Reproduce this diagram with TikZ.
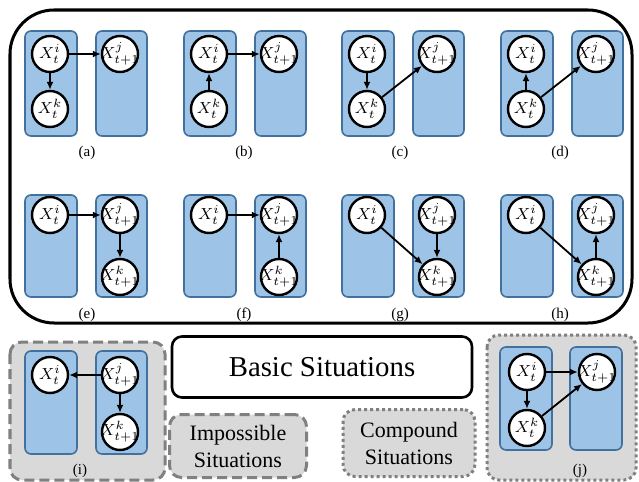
\documentclass[tikz,border=0pt]{standalone}
\usepackage{fontspec}
\setmainfont{Liberation Serif}
\usetikzlibrary{arrows.meta,positioning}

\definecolor{colfill}{RGB}{157,195,230}
\definecolor{coledge}{RGB}{65,113,156}
\definecolor{shade}{RGB}{217,217,217}
\definecolor{rim}{RGB}{128,128,128}

% zero-width label so the circles keep one size
\newcommand{\xvar}[2]{\makebox[0pt]{$X^{#1}_{#2}$}}

\begin{document}
\begin{tikzpicture}
      [x=0.5pt, y=-0.5pt,
       varnode/.style={circle, draw, fill=white, line width=1.2pt, minimum size=18pt, inner sep=0pt, font=\fontsize{8.5}{10}\selectfont},
       slice/.style={draw=coledge, fill=colfill, line width=0.8pt, rounded corners=3pt},
       dep/.style={-{Latex[length=4pt,width=3.5pt]}, line width=0.9pt},
       tag/.style={font=\fontsize{7.5}{9}\selectfont},
       kindbox/.style={align=center, font=\fontsize{11}{13.5}\selectfont, fill=shade, draw=rim, line width=1.5pt, rounded corners=6pt}]
      \useasboundingbox (0,0) rectangle (639,482);

      % frames
      \draw [line width=1.5pt, rounded corners=22pt] (10,10) rectangle (632,323);
      \draw [fill=shade, draw=rim, line width=1.5pt, rounded corners=6pt, dash pattern=on 5pt off 2.5pt] (10,342) rectangle (165,480);
      \draw [fill=shade, draw=rim, line width=1.5pt, rounded corners=6pt, dash pattern=on 1.5pt off 1.5pt] (487,335) rectangle (636,480);

      % time slices
      \foreach \x in {25,184,342,501} {
        \draw [slice] (\x,31) rectangle ++(52,105);
        \draw [slice] (\x+71,31) rectangle ++(51,105);
        \draw [slice] (\x,195) rectangle ++(52,102);
        \draw [slice] (\x+71,195) rectangle ++(51,102);
      }
      \draw [slice] (25,351) rectangle (77,454);
      \draw [slice] (96,351) rectangle (147,454);
      \draw [slice] (500,347) rectangle (552,450);
      \draw [slice] (570,347) rectangle (622,450);

      % (a)
      \node [varnode] (ai) at ( 50, 54) {\xvar{i}{t}};
      \node [varnode] (ak) at ( 50,109) {\xvar{k}{t}};
      \node [varnode] (aj) at (120, 54) {\xvar{j}{t+1}};
      \draw [dep] (ai) to (aj);
      \draw [dep] (ai) to (ak);
      \node [tag] (la) at (87,153) {(a)};

      % (b)
      \node [varnode] (bi) at (209, 54) {\xvar{i}{t}};
      \node [varnode] (bk) at (209,109) {\xvar{k}{t}};
      \node [varnode] (bj) at (279, 54) {\xvar{j}{t+1}};
      \draw [dep] (bi) to (bj);
      \draw [dep] (bk) to (bi);
      \node [tag] (lb) at (244,153) {(b)};

      % (c)
      \node [varnode] (ci) at (367, 54) {\xvar{i}{t}};
      \node [varnode] (ck) at (367,109) {\xvar{k}{t}};
      \node [varnode] (cj) at (437, 54) {\xvar{j}{t+1}};
      \draw [dep] (ci) to (ck);
      \draw [dep] (ck) to (cj);
      \node [tag] (lc) at (400,153) {(c)};

      % (d)
      \node [varnode] (di) at (526, 54) {\xvar{i}{t}};
      \node [varnode] (dk) at (526,109) {\xvar{k}{t}};
      \node [varnode] (dj) at (596, 54) {\xvar{j}{t+1}};
      \draw [dep] (dk) to (di);
      \draw [dep] (dk) to (dj);
      \node [tag] (ld) at (560,153) {(d)};

      % (e)
      \node [varnode] (ei) at ( 50,215) {\xvar{i}{t}};
      \node [varnode] (ej) at (120,215) {\xvar{j}{t+1}};
      \node [varnode] (ek) at (120,277) {\xvar{k}{t+1}};
      \draw [dep] (ei) to (ej);
      \draw [dep] (ej) to (ek);
      \node [tag] (le) at (87,315) {(e)};

      % (f)
      \node [varnode] (fi) at (209,215) {\xvar{i}{t}};
      \node [varnode] (fj) at (279,215) {\xvar{j}{t+1}};
      \node [varnode] (fk) at (279,277) {\xvar{k}{t+1}};
      \draw [dep] (fi) to (fj);
      \draw [dep] (fk) to (fj);
      \node [tag] (lf) at (244,315) {(f)};

      % (g)
      \node [varnode] (gi) at (367,215) {\xvar{i}{t}};
      \node [varnode] (gj) at (437,215) {\xvar{j}{t+1}};
      \node [varnode] (gk) at (437,277) {\xvar{k}{t+1}};
      \draw [dep] (gi) to (gk);
      \draw [dep] (gj) to (gk);
      \node [tag] (lg) at (400,315) {(g)};

      % (h)
      \node [varnode] (hi) at (526,215) {\xvar{i}{t}};
      \node [varnode] (hj) at (596,215) {\xvar{j}{t+1}};
      \node [varnode] (hk) at (596,277) {\xvar{k}{t+1}};
      \draw [dep] (hi) to (hk);
      \draw [dep] (hk) to (hj);
      \node [tag] (lh) at (560,315) {(h)};

      % (i)
      \node [varnode] (ii) at ( 50,375) {\xvar{i}{t}};
      \node [varnode] (ij) at (120,375) {\xvar{j}{t+1}};
      \node [varnode] (ik) at (120,432) {\xvar{k}{t+1}};
      \draw [dep] (ij) to (ii);
      \draw [dep] (ij) to (ik);
      \node [tag] (li) at (80,471) {(i)};

      % (j)
      \node [varnode] (ji) at (527,372) {\xvar{i}{t}};
      \node [varnode] (jk) at (527,428) {\xvar{k}{t}};
      \node [varnode] (jj) at (597,372) {\xvar{j}{t+1}};
      \draw [dep] (ji) to (jj);
      \draw [dep] (ji) to (jk);
      \draw [dep] (jk) to (jj);
      \node [tag] (lj) at (580,471) {(j)};

      % legend
      \node [draw, line width=1.3pt, rounded corners=5pt, minimum width=150pt, minimum height=30.5pt,
             font=\fontsize{14.4}{17}\selectfont] (basic) at (322,367) {Basic Situations};
      \node [kindbox, dash pattern=on 5pt off 2.5pt, minimum width=68.5pt, minimum height=31.5pt]
            (impossible) at (238,446) {Impossible\\Situations};
      \node [kindbox, dash pattern=on 1.5pt off 1.5pt, minimum width=66pt, minimum height=33.5pt]
            (compound) at (409,443) {Compound\\Situations};
    \end{tikzpicture}
\end{document}
